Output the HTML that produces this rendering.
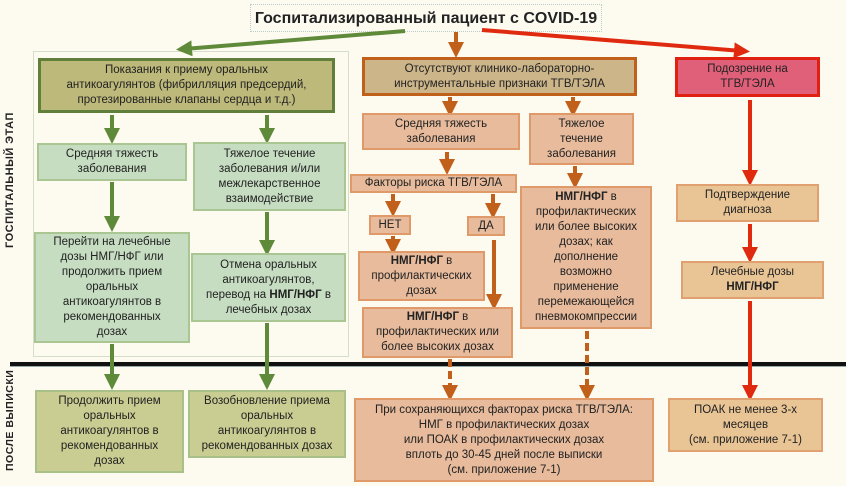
<!DOCTYPE html><html><head><meta charset="utf-8"><style>
body{margin:0;width:846px;height:486px;background:#fdfaf0;position:relative;overflow:hidden;font-family:"Liberation Sans",sans-serif;}
.b{position:absolute;box-sizing:border-box;display:flex;align-items:center;justify-content:center;text-align:center;font-size:11.5px;line-height:15px;color:#222;white-space:nowrap;}
.g{background:#c6ddc2;border:2px solid #a9c693;}
.o{background:#e7bb9c;border:2px solid #e09a6a;}
.t{background:#e9c596;border:2px solid #e0a070;}
.y{background:#c9cd92;border:2px solid #a9c088;}
.v{position:absolute;transform:rotate(-90deg);transform-origin:center;font-size:11px;font-weight:bold;letter-spacing:0.5px;color:#222;white-space:nowrap;text-align:center;}
</style></head><body>
<div style="position:absolute;left:33px;top:51px;width:314px;height:304px;border:1px solid #d6ddc8;"></div>
<div style="position:absolute;left:10px;top:362px;width:836px;height:4px;background:#111;"></div>
<div style="position:absolute;left:10px;top:366px;width:836px;height:1px;background:#9aa;"></div>
<div class="b" style="left:250px;top:4px;width:352px;height:28px;border:1px dotted #bcc;font-size:16px;font-weight:bold;">Госпитализированный пациент с COVID-19</div>
<svg width="846" height="486" style="position:absolute;left:0;top:0">
<defs>
<marker id="ag" markerWidth="4" markerHeight="4" refX="2" refY="2" orient="auto"><path d="M0,0L4,2L0,4z" fill="#5f8a3a"/></marker>
<marker id="ao" markerWidth="4" markerHeight="4" refX="2" refY="2" orient="auto"><path d="M0,0L4,2L0,4z" fill="#c0601a"/></marker>
<marker id="ar" markerWidth="4" markerHeight="4" refX="2" refY="2" orient="auto"><path d="M0,0L4,2L0,4z" fill="#e02a10"/></marker>
</defs>
<g stroke="#5f8a3a" stroke-width="4" marker-end="url(#ag)">
<line x1="405" y1="31" x2="184" y2="49"/>
<line x1="112" y1="115" x2="112" y2="136"/><line x1="267" y1="115" x2="267" y2="136"/>
<line x1="112" y1="182" x2="112" y2="224"/><line x1="267" y1="212" x2="267" y2="248"/>
<line x1="112" y1="344" x2="112" y2="382"/><line x1="267" y1="323" x2="267" y2="382"/>
</g>
<g stroke="#c0601a" stroke-width="4" marker-end="url(#ao)">
<line x1="456" y1="32" x2="456" y2="50"/>
<line x1="450" y1="97" x2="450" y2="109"/><line x1="573" y1="97" x2="573" y2="109"/>
<line x1="447" y1="152" x2="447" y2="167"/>
<line x1="393" y1="194" x2="393" y2="209"/><line x1="493" y1="194" x2="493" y2="211"/>
<line x1="393" y1="236" x2="393" y2="247"/><line x1="494" y1="240" x2="494" y2="302"/>
<line x1="575" y1="166" x2="575" y2="181"/>
<line x1="450" y1="359" x2="450" y2="393" stroke-dasharray="8,4"/>
<line x1="587" y1="331" x2="587" y2="393" stroke-dasharray="8,4"/>
</g>
<g stroke="#e02a10" stroke-width="4" marker-end="url(#ar)">
<line x1="482" y1="30" x2="742" y2="51"/>
<line x1="750" y1="100" x2="750" y2="178"/><line x1="750" y1="224" x2="750" y2="255"/>
<line x1="750" y1="301" x2="750" y2="393"/>
</g>
</svg>
<div class="v" style="left:-50px;top:182px;width:120px;">ГОСПИТАЛЬНЫЙ ЭТАП</div>
<div class="v" style="left:-35px;top:420px;width:90px;font-size:10.5px;">ПОСЛЕ ВЫПИСКИ</div>
<div class="b" style="left:38px;top:58px;width:297px;height:55px;background:#bdb97a;border:3px solid #5f7f3a;">Показания к приему оральных<br>антикоагулянтов (фибрилляция предсердий,<br>протезированные клапаны сердца и т.д.)</div>
<div class="b g" style="left:37px;top:143px;width:150px;height:38px;">Средняя тяжесть<br>заболевания</div>
<div class="b g" style="left:193px;top:142px;width:153px;height:69px;">Тяжелое течение<br>заболевания и/или<br>межлекарственное<br>взаимодействие</div>
<div class="b g" style="left:34px;top:232px;width:156px;height:111px;">Перейти на лечебные<br>дозы НМГ/НФГ или<br>продолжить прием<br>оральных<br>антикоагулянтов в<br>рекомендованных<br>дозах</div>
<div class="b g" style="left:191px;top:253px;width:155px;height:69px;"><span>Отмена оральных<br>антикоагулянтов,<br>перевод на <b>НМГ/НФГ</b> в<br>лечебных дозах</span></div>
<div class="b y" style="left:35px;top:390px;width:149px;height:83px;">Продолжить прием<br>оральных<br>антикоагулянтов в<br>рекомендованных<br>дозах</div>
<div class="b y" style="left:188px;top:390px;width:158px;height:68px;">Возобновление приема<br>оральных<br>антикоагулянтов в<br>рекомендованных дозах</div>
<div class="b" style="left:362px;top:57px;width:275px;height:39px;background:#cdb58a;border:3px solid #c0601a;">Отсутствуют клинико-лабораторно-<br>инструментальные признаки ТГВ/ТЭЛА</div>
<div class="b o" style="left:362px;top:113px;width:158px;height:37px;">Средняя тяжесть<br>заболевания</div>
<div class="b o" style="left:529px;top:113px;width:105px;height:52px;">Тяжелое<br>течение<br>заболевания</div>
<div class="b o" style="left:350px;top:174px;width:167px;height:19px;">Факторы риска ТГВ/ТЭЛА</div>
<div class="b o" style="left:369px;top:215px;width:42px;height:20px;">НЕТ</div>
<div class="b o" style="left:467px;top:216px;width:38px;height:20px;">ДА</div>
<div class="b o" style="left:358px;top:251px;width:127px;height:50px;"><span><b>НМГ/НФГ</b> в<br>профилактических<br>дозах</span></div>
<div class="b o" style="left:362px;top:307px;width:151px;height:51px;"><span><b>НМГ/НФГ</b> в<br>профилактических или<br>более высоких дозах</span></div>
<div class="b o" style="left:520px;top:186px;width:132px;height:143px;"><span><b>НМГ/НФГ</b> в<br>профилактических<br>или более высоких<br>дозах; как<br>дополнение<br>возможно<br>применение<br>перемежающейся<br>пневмокомпрессии</span></div>
<div class="b o" style="left:354px;top:398px;width:300px;height:84px;">При сохраняющихся факторах риска ТГВ/ТЭЛА:<br>НМГ в профилактических дозах<br>или ПОАК в профилактических дозах<br>вплоть до 30-45 дней после выписки<br>(см. приложение 7-1)</div>
<div class="b" style="left:675px;top:57px;width:145px;height:40px;background:#e0607a;border:3px solid #e02010;">Подозрение на<br>ТГВ/ТЭЛА</div>
<div class="b t" style="left:676px;top:184px;width:143px;height:38px;">Подтверждение<br>диагноза</div>
<div class="b t" style="left:681px;top:261px;width:143px;height:38px;"><span>Лечебные дозы<br><b>НМГ/НФГ</b></span></div>
<div class="b t" style="left:668px;top:398px;width:155px;height:54px;">ПОАК не менее 3-х<br>месяцев<br>(см. приложение 7-1)</div>
</body></html>
